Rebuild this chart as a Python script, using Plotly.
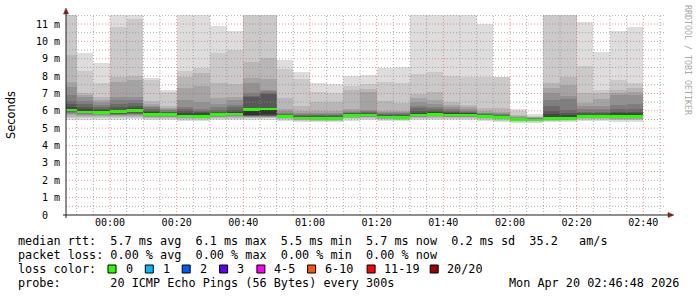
import plotly.graph_objects as go
from datetime import datetime, timedelta

# ---------------- data ----------------
# end time of each 5-minute smokeping step
bin_end = [
    "2026-04-19 23:50", "2026-04-19 23:55", "2026-04-20 00:00", "2026-04-20 00:05",
    "2026-04-20 00:10", "2026-04-20 00:15", "2026-04-20 00:20", "2026-04-20 00:25",
    "2026-04-20 00:30", "2026-04-20 00:35", "2026-04-20 00:40", "2026-04-20 00:45",
    "2026-04-20 00:50", "2026-04-20 00:55", "2026-04-20 01:00", "2026-04-20 01:05",
    "2026-04-20 01:10", "2026-04-20 01:15", "2026-04-20 01:20", "2026-04-20 01:25",
    "2026-04-20 01:30", "2026-04-20 01:35", "2026-04-20 01:40", "2026-04-20 01:45",
    "2026-04-20 01:50", "2026-04-20 01:55", "2026-04-20 02:00", "2026-04-20 02:05",
    "2026-04-20 02:10", "2026-04-20 02:15", "2026-04-20 02:20", "2026-04-20 02:25",
    "2026-04-20 02:30", "2026-04-20 02:35", "2026-04-20 02:40",
]

# 20 sorted ping RTTs (ms) per step
ping_rtt_ms = [
    [5.50,5.58,5.66,5.74,5.82,5.88,5.93,5.97,6.00,6.03, 6.10,6.24,6.40,6.59,6.90,7.35,7.68,9.22,12.5,13.0],
    [5.50,5.58,5.65,5.72,5.78,5.83,5.86,5.89,5.91,5.92, 5.98,6.08,6.24,6.40,6.59,6.78,6.90,7.05,8.30,9.35],
    [5.48,5.56,5.64,5.71,5.77,5.82,5.85,5.88,5.90,5.91, 5.96,6.03,6.10,6.20,6.35,6.50,6.63,6.78,7.59,8.74],
    [5.50,5.58,5.64,5.70,5.74,5.77,5.80,5.83,5.86,5.88, 6.00,6.05,6.20,6.40,6.60,6.78,7.68,7.97,10.85,12.0],
    [5.52,5.60,5.66,5.72,5.76,5.80,5.84,5.88,5.92,5.95, 6.06,6.15,6.30,6.45,6.65,6.82,7.80,8.00,11.30,12.0],
    [5.45,5.52,5.58,5.63,5.67,5.70,5.72,5.74,5.76,5.77, 5.84,5.92,6.00,6.10,6.20,6.30,6.40,6.57,7.78,7.90],
    [5.45,5.52,5.58,5.63,5.67,5.70,5.72,5.74,5.76,5.77, 5.83,5.88,5.92,5.96,6.02,6.10,6.18,6.28,7.07,7.20],
    [5.42,5.49,5.55,5.59,5.62,5.65,5.67,5.68,5.69,5.70, 5.78,5.90,6.00,6.10,6.24,6.60,7.29,7.97,8.31,12.0],
    [5.40,5.47,5.53,5.57,5.60,5.62,5.64,5.65,5.66,5.67, 5.76,5.85,5.92,5.98,6.09,6.50,7.43,8.16,8.45,12.0],
    [5.45,5.52,5.58,5.63,5.67,5.70,5.72,5.74,5.76,5.77, 5.82,5.88,5.95,6.05,6.20,6.40,6.72,7.58,9.31,10.90],
    [5.48,5.55,5.61,5.66,5.70,5.74,5.77,5.79,5.80,5.81, 5.86,5.95,6.05,6.20,6.35,6.62,6.80,7.52,9.50,10.58],
    [5.50,5.56,5.60,5.63,5.66,5.69,5.71,5.73,5.75,5.78, 6.15,6.17,6.81,6.85,7.05,7.62,7.87,8.83,11.60,12.5],
    [5.50,5.56,5.60,5.63,5.66,5.69,5.71,5.73,5.76,5.80, 6.14,6.18,6.95,7.03,7.12,7.20,7.85,9.02,12.0,12.5],
    [5.40,5.47,5.52,5.56,5.59,5.61,5.62,5.63,5.64,5.65, 5.70,5.74,5.78,5.83,5.90,5.98,6.10,6.72,8.39,8.93],
    [5.35,5.41,5.46,5.49,5.52,5.54,5.55,5.56,5.57,5.575, 5.61,5.65,5.70,5.75,5.82,5.90,6.00,6.26,7.82,8.26],
    [5.33,5.39,5.44,5.47,5.50,5.51,5.52,5.53,5.54,5.545, 5.59,5.64,5.69,5.75,5.82,5.90,6.00,6.53,7.10,7.62],
    [5.34,5.40,5.44,5.47,5.50,5.51,5.52,5.53,5.54,5.545, 5.59,5.64,5.69,5.75,5.82,5.90,6.00,6.52,7.05,7.55],
    [5.44,5.51,5.57,5.61,5.65,5.67,5.69,5.70,5.71,5.72, 5.77,5.81,5.85,5.90,5.95,6.00,6.10,7.20,7.45,8.00],
    [5.46,5.53,5.59,5.63,5.67,5.70,5.72,5.74,5.75,5.76, 5.80,5.84,5.88,5.92,5.98,6.05,7.10,7.28,7.55,8.06],
    [5.40,5.46,5.51,5.55,5.58,5.60,5.61,5.62,5.63,5.64, 5.68,5.72,5.75,5.80,5.85,5.92,6.00,6.59,7.65,8.45],
    [5.39,5.45,5.50,5.54,5.57,5.59,5.60,5.61,5.62,5.625, 5.66,5.70,5.74,5.79,5.85,5.91,5.98,6.47,7.62,8.51],
    [5.45,5.52,5.58,5.62,5.66,5.69,5.71,5.72,5.73,5.74, 5.82,5.90,6.00,6.15,6.30,6.50,6.75,6.95,8.12,12.0],
    [5.46,5.53,5.59,5.64,5.68,5.71,5.73,5.75,5.76,5.77, 5.85,5.92,6.00,6.10,6.24,6.40,6.64,7.10,8.26,12.0],
    [5.45,5.52,5.58,5.62,5.66,5.69,5.71,5.72,5.73,5.74, 5.80,5.87,5.93,6.00,6.10,6.20,6.33,6.50,8.00,12.0],
    [5.45,5.52,5.58,5.62,5.66,5.69,5.71,5.72,5.73,5.74, 5.80,5.85,5.90,5.95,6.00,6.10,6.20,6.33,7.97,12.0],
    [5.40,5.47,5.53,5.57,5.60,5.62,5.64,5.65,5.66,5.665, 5.70,5.73,5.76,5.80,5.85,5.90,5.98,6.14,7.93,10.98],
    [5.36,5.42,5.47,5.51,5.54,5.56,5.57,5.58,5.59,5.595, 5.63,5.67,5.71,5.76,5.82,5.88,5.95,6.14,7.95,7.97],
    [5.32,5.37,5.41,5.44,5.46,5.47,5.48,5.49,5.495,5.50, 5.52,5.54,5.56,5.58,5.61,5.64,5.68,5.75,5.98,6.10],
    [5.30,5.35,5.39,5.42,5.44,5.45,5.46,5.465,5.47,5.47, 5.49,5.51,5.53,5.55,5.57,5.59,5.62,5.66,5.72,5.82],
    [5.34,5.40,5.44,5.47,5.50,5.51,5.52,5.53,5.54,5.545, 5.65,5.80,6.00,6.30,6.65,7.05,7.30,7.58,12.0,12.5],
    [5.34,5.40,5.45,5.48,5.50,5.52,5.53,5.54,5.55,5.555, 5.65,5.75,5.90,6.05,6.70,6.85,7.50,7.95,12.0,12.5],
    [5.40,5.47,5.53,5.57,5.60,5.62,5.64,5.65,5.66,5.665, 5.72,5.78,5.85,5.95,6.10,6.25,6.43,7.00,8.56,11.13],
    [5.40,5.47,5.53,5.57,5.60,5.62,5.64,5.65,5.66,5.665, 5.72,5.78,5.85,5.95,6.10,6.30,6.67,7.01,7.20,9.41],
    [5.38,5.45,5.50,5.54,5.57,5.59,5.61,5.62,5.63,5.64, 5.75,5.85,5.95,6.10,6.35,6.90,7.05,7.20,7.80,10.60],
    [5.38,5.45,5.50,5.54,5.57,5.59,5.61,5.62,5.63,5.64, 5.75,5.85,5.95,6.10,6.40,6.90,7.10,7.30,7.60,10.85],
]

median_ms = [6.05, 5.93, 5.92, 5.95, 6.02, 5.78, 5.78, 5.71, 5.68, 5.78, 5.82, 6.07,
             6.10, 5.66, 5.58, 5.55, 5.55, 5.73, 5.77, 5.65, 5.63, 5.75, 5.78, 5.75,
             5.75, 5.67, 5.60, 5.50, 5.47, 5.55, 5.56, 5.67, 5.67, 5.66, 5.67]

y_tick_vals = [0, 1, 2, 3, 4, 5, 6, 7, 8, 9, 10, 11]
y_tick_text = ["0\u00a0\u00a0", "1 m", "2 m", "3 m", "4 m", "5 m", "6 m", "7 m", "8 m", "9 m", "10 m", "11 m"]

loss_labels = ["0", "1", "2", "3", "4-5", "6-10", "11-19", "20/20"]
loss_colors = ["#26ff00", "#00b8ff", "#0059ff", "#5e00ff", "#ff00ff", "#ff5500", "#ff0000", "#a10000"]

legend_lines = [
    "median rtt:  5.7 ms avg  6.1 ms max  5.5 ms min  5.7 ms now  0.2 ms sd  35.2   am/s",
    "packet loss: 0.00 % avg  0.00 % max  0.00 % min  0.00 % now",
    "loss color:",
    "probe:       20 ICMP Echo Pings (56 Bytes) every 300s",
]
stamp_text = "Mon Apr 20 02:46:48 2026"
watermark = "RRDTOOL / TOBI OETIKER"

# ---------------- geometry helpers ----------------
X_START = "2026-04-19 23:46:48"
X_END = "2026-04-20 02:46:48"
Y_MAX = 11.52
PL, PT, PW, PH = 66, 15, 600, 200  # plot area in pixels


def pxx(px):
    return (px - PL) / PW


def pxy(py):
    return (PT + PH - py) / PH


STEP = timedelta(minutes=5)
centers = [(datetime.fromisoformat(t) - STEP / 2).strftime("%Y-%m-%d %H:%M:%S") for t in bin_end]
n = len(centers)
step_ms = STEP.total_seconds() * 1000

fig = go.Figure()

half = 10
for ibot in range(half):
    c = int(190 / half * (half - (ibot + 1))) + 50
    color = "#%02x%02x%02x" % (c, c, c)
    lo = [row[ibot] for row in ping_rtt_ms]
    hi = [row[19 - ibot] for row in ping_rtt_ms]
    fig.add_trace(go.Bar(
        x=centers, base=lo, y=[h - l for h, l in zip(hi, lo)],
        width=[step_ms] * n, marker=dict(color=color, line=dict(width=0)),
        hoverinfo="skip", showlegend=False,
    ))

med_half = 0.075
fig.add_trace(go.Bar(
    x=centers, base=[m - med_half for m in median_ms], y=[2 * med_half] * n,
    width=[step_ms] * n, marker=dict(color=loss_colors[0], line=dict(width=0)),
    hoverinfo="skip", showlegend=False,
))

MONO = "DejaVu Sans Mono"
fig.update_layout(
    width=697, height=297,
    margin=dict(l=PL, r=697 - PL - PW, t=PT, b=297 - PT - PH, pad=0),
    paper_bgcolor="white", plot_bgcolor="white",
    barmode="overlay", bargap=0, showlegend=False,
    font=dict(family=MONO, size=10, color="black"),
)
fig.update_xaxes(
    type="date", range=[X_START, X_END], tickformat="%H:%M",
    tick0="2026-04-20 00:00:00", dtick=20 * 60 * 1000,
    showgrid=False, zeroline=False, showline=False,
    ticks="", tickfont=dict(family=MONO, size=10, color="black"),
)
fig.update_yaxes(
    range=[0, Y_MAX], tickvals=y_tick_vals, ticktext=y_tick_text,
    showgrid=False, zeroline=False, showline=False,
    ticks="outside", ticklen=3, tickcolor="rgba(0,0,0,0)",
    tickfont=dict(family=MONO, size=10, color="black"),
)

shapes = []
MINOR_C = "rgba(143,143,143,0.75)"
MAJOR_C = "rgba(222,79,79,0.6)"
DASH = "1px,2px"
# horizontal grid
k = 1
while k * 0.5 < Y_MAX:
    v = k * 0.5
    major = (k % 2 == 0)
    shapes.append(dict(type="line", xref="x domain", yref="y", x0=0, x1=1, y0=v, y1=v,
                       line=dict(color=MAJOR_C if major else MINOR_C, width=1, dash=DASH), layer="above"))
    k += 1
# vertical grid
t = datetime.fromisoformat("2026-04-19 23:50:00")
tend = datetime.fromisoformat(X_END)
while t < tend:
    major = (t.minute % 20 == 0)
    ts = t.strftime("%Y-%m-%d %H:%M:%S")
    shapes.append(dict(type="line", xref="x", yref="y domain", x0=ts, x1=ts, y0=0, y1=1,
                       line=dict(color=MAJOR_C if major else MINOR_C, width=1, dash=DASH), layer="above"))
    t += STEP

AXIS_C = "#1f1f1f"
ARROW_C = "#801f1f"
# axis lines
shapes.append(dict(type="line", xref="paper", yref="paper", x0=pxx(63), x1=pxx(669), y0=0, y1=0,
                   line=dict(color=AXIS_C, width=1), layer="above"))
shapes.append(dict(type="line", xref="paper", yref="paper", x0=0, x1=0, y0=pxy(218), y1=pxy(12),
                   line=dict(color=AXIS_C, width=1), layer="above"))
# arrows
shapes.append(dict(type="path", xref="paper", yref="paper",
                   path="M %f,%f L %f,%f L %f,%f Z" % (pxx(668), pxy(212.5), pxx(674), pxy(215), pxx(668), pxy(217.5)),
                   fillcolor=ARROW_C, line=dict(color=ARROW_C, width=0.5), layer="above"))
shapes.append(dict(type="path", xref="paper", yref="paper",
                   path="M %f,%f L %f,%f L %f,%f Z" % (pxx(63.5), pxy(14), pxx(66), pxy(8), pxx(68.5), pxy(14)),
                   fillcolor=ARROW_C, line=dict(color=ARROW_C, width=0.5), layer="above"))

# loss colour boxes
box_left_px = [108, 145.3, 182.2, 219.6, 256.9, 307.6, 367.1, 430.2]
label_left_px = [123.6, 160.9, 197.8, 234.7, 271.6, 323.1, 382.2, 445.3]
row_y = [241, 255, 269, 283]
for bx, col in zip(box_left_px, loss_colors):
    shapes.append(dict(type="rect", xref="paper", yref="paper",
                       x0=pxx(bx), x1=pxx(bx + 8), y0=pxy(row_y[2] - 4), y1=pxy(row_y[2] + 4),
                       fillcolor=col, line=dict(color="black", width=1)))

fig.update_layout(shapes=shapes)

ann = []
LEG = dict(family=MONO, size=11.8, color="black")
for line, yy in zip(legend_lines, row_y):
    ann.append(dict(text=line.replace(" ", "\u00a0"), xref="paper", yref="paper",
                    x=pxx(16), y=pxy(yy), xanchor="left", yanchor="middle",
                    showarrow=False, font=LEG))
for lx, lab in zip(label_left_px, loss_labels):
    ann.append(dict(text=lab, xref="paper", yref="paper", x=pxx(lx), y=pxy(row_y[2]),
                    xanchor="left", yanchor="middle", showarrow=False, font=LEG))
ann.append(dict(text=stamp_text.replace(" ", "\u00a0"), xref="paper", yref="paper",
                x=pxx(681), y=pxy(row_y[3]), xanchor="right", yanchor="middle",
                showarrow=False, font=LEG))
ann.append(dict(text="Seconds", xref="paper", yref="paper", x=pxx(11), y=pxy(115),
                xanchor="center", yanchor="middle", textangle=-90, showarrow=False,
                font=dict(family="DejaVu Sans", size=11.4, color="black")))
ann.append(dict(text=watermark.replace(" ", "\u00a0"), xref="paper", yref="paper",
                x=pxx(688), y=pxy(60), xanchor="center", yanchor="middle", textangle=90,
                showarrow=False, font=dict(family=MONO, size=8.3, color="#a8a8a8")))
fig.update_layout(annotations=ann)

fig.write_html("out.html")
